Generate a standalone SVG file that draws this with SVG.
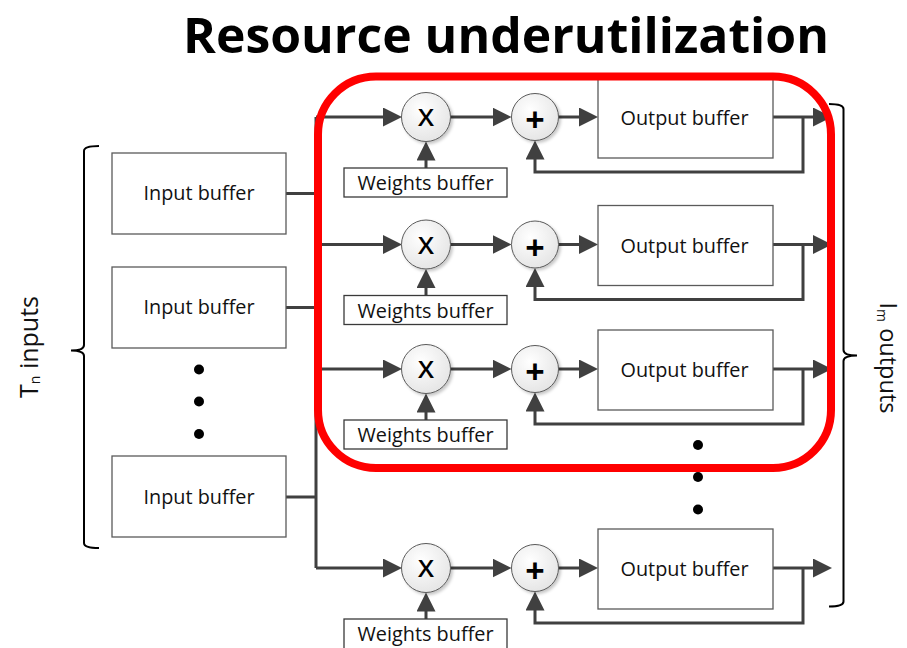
<svg xmlns="http://www.w3.org/2000/svg" width="907" height="648" viewBox="0 0 907 648">
  <style>
    .box { fill: #ffffff; stroke: #5a5a5a; stroke-width: 1.3; }
    .wbox { fill: #ffffff; stroke: #3a3a3a; stroke-width: 1.3; }
    .op { fill: url(#opFill); stroke: #5a5a5a; stroke-width: 1; filter: url(#soft); }
    .wire { fill: none; stroke: #404040; stroke-width: 3; marker-end: url(#arrow); }
    .plain { fill: none; stroke: #404040; stroke-width: 3; }
    .brace { fill: none; stroke: #000000; stroke-width: 2; }
    .lbl { font-family: "Open Sans", "Noto Sans", "Liberation Sans", sans-serif; fill: #111111; text-anchor: middle; }
    .mul { font-family: "Open Sans", "Noto Sans", "Liberation Sans", sans-serif; font-weight: 600; font-size: 22.5px; fill: #000000; text-anchor: middle; }
    .add { font-family: "Open Sans", "Noto Sans", "Liberation Sans", sans-serif; font-weight: bold; font-size: 34px; fill: #000000; text-anchor: middle; }
    .dot { fill: #000000; }
  </style>
  <defs>
    <marker id="arrow" markerUnits="userSpaceOnUse" markerWidth="20" markerHeight="20" refX="11" refY="9.5" orient="auto">
      <path d="M0,0 L19,9.5 L0,19 Z" fill="#404040"/>
    </marker>
    <radialGradient id="opFill" cx="40%" cy="35%" r="70%">
      <stop offset="0" stop-color="#ffffff"/>
      <stop offset="1" stop-color="#e4e4e4"/>
    </radialGradient>
    <filter id="soft" x="-30%" y="-30%" width="170%" height="170%">
      <feDropShadow dx="2" dy="2" stdDeviation="1.5" flood-color="#000000" flood-opacity="0.22"/>
    </filter>
  </defs>

  <rect width="907" height="648" fill="#ffffff"/>

  <!-- title -->
  <text x="183" y="52.5" font-family="'Open Sans', 'Noto Sans', 'Liberation Sans', sans-serif" font-weight="bold" font-size="49" fill="#000000" textLength="646" lengthAdjust="spacingAndGlyphs">Resource underutilization</text>

  <!-- connectors -->
  <g id="connectors">
    <!-- input buffers to shared trunk -->
    <path class="plain" d="M286,193.5 H316 M286,307.5 H316 M286,497 H316"/>
    <path class="plain" d="M316,117 V568"/>

    <!-- row 1 -->
    <path class="wire" d="M316,117 H394"/>
    <path class="wire" d="M450.5,117 H503.5"/>
    <path class="wire" d="M558.5,117 H590"/>
    <path class="wire" d="M773,117 H824"/>
    <path class="wire" d="M803,117 V172 H535 V148.5"/>
    <path class="wire" d="M426,168 V149.5"/>

    <!-- row 2 -->
    <path class="wire" d="M316,244.5 H394"/>
    <path class="wire" d="M450.5,244.5 H503.5"/>
    <path class="wire" d="M558.5,244.5 H590"/>
    <path class="wire" d="M773,244.5 H824"/>
    <path class="wire" d="M803,244.5 V299.5 H535 V276"/>
    <path class="wire" d="M426,295.5 V277"/>

    <!-- row 3 -->
    <path class="wire" d="M316,369 H394"/>
    <path class="wire" d="M450.5,369 H503.5"/>
    <path class="wire" d="M558.5,369 H590"/>
    <path class="wire" d="M773,369 H824"/>
    <path class="wire" d="M803,369 V424 H535 V400.5"/>
    <path class="wire" d="M426,420 V401.5"/>

    <!-- row 4 -->
    <path class="wire" d="M316,568 H394"/>
    <path class="wire" d="M450.5,568 H503.5"/>
    <path class="wire" d="M558.5,568 H590"/>
    <path class="wire" d="M773,568 H824"/>
    <path class="wire" d="M803,568 V623 H535 V599.5"/>
    <path class="wire" d="M426,619 V600.5"/>
  </g>

  <!-- input side -->
  <g id="input-1">
    <rect class="box" x="112" y="153" width="174" height="81"/>
    <text class="lbl" x="199" y="200" font-size="19.5" textLength="111" lengthAdjust="spacingAndGlyphs">Input buffer</text>
  </g>
  <g id="input-2">
    <rect class="box" x="112" y="267" width="174" height="81"/>
    <text class="lbl" x="199" y="314" font-size="19.5" textLength="111" lengthAdjust="spacingAndGlyphs">Input buffer</text>
  </g>
  <g id="input-dots">
    <circle class="dot" cx="199" cy="369.5" r="5"/>
    <circle class="dot" cx="199" cy="401.5" r="5"/>
    <circle class="dot" cx="199" cy="434" r="5"/>
  </g>
  <g id="input-n">
    <rect class="box" x="112" y="456" width="174" height="81"/>
    <text class="lbl" x="199" y="503.5" font-size="19.5" textLength="111" lengthAdjust="spacingAndGlyphs">Input buffer</text>
  </g>

  <g id="inputs-brace">
    <path class="brace" d="M99,146 Q84,146 84,151 V345 Q84,350.5 71,350.5 Q84,350.5 84,356 V543 Q84,548 99,548"/>
    <text class="lbl" transform="translate(37.5,347) rotate(-90)" font-size="25">T<tspan font-size="14" dy="2">n</tspan><tspan dy="-2"> inputs</tspan></text>
  </g>

  <!-- row 1 -->
  <g id="mul-1"><circle class="op" cx="426" cy="117" r="24.5"/><text class="mul" x="426" y="126" textLength="16" lengthAdjust="spacingAndGlyphs">X</text></g>
  <g id="add-1"><circle class="op" cx="535" cy="117" r="23.5"/><text class="add" x="535" y="132">+</text></g>
  <g id="weights-1"><rect class="wbox" x="344" y="168" width="163" height="29"/><text class="lbl" x="425.5" y="190" font-size="19.5" textLength="136" lengthAdjust="spacingAndGlyphs">Weights buffer</text></g>
  <g id="output-1"><rect class="box" x="598" y="78" width="175" height="80"/><text class="lbl" x="684.5" y="125" font-size="19.5" textLength="128" lengthAdjust="spacingAndGlyphs">Output buffer</text></g>

  <!-- row 2 -->
  <g id="mul-2"><circle class="op" cx="426" cy="244.5" r="24.5"/><text class="mul" x="426" y="253.5" textLength="16" lengthAdjust="spacingAndGlyphs">X</text></g>
  <g id="add-2"><circle class="op" cx="535" cy="244.5" r="23.5"/><text class="add" x="535" y="259.5">+</text></g>
  <g id="weights-2"><rect class="wbox" x="344" y="295.5" width="163" height="29"/><text class="lbl" x="425.5" y="317.5" font-size="19.5" textLength="136" lengthAdjust="spacingAndGlyphs">Weights buffer</text></g>
  <g id="output-2"><rect class="box" x="598" y="205.5" width="175" height="80"/><text class="lbl" x="684.5" y="252.5" font-size="19.5" textLength="128" lengthAdjust="spacingAndGlyphs">Output buffer</text></g>

  <!-- row 3 -->
  <g id="mul-3"><circle class="op" cx="426" cy="369" r="24.5"/><text class="mul" x="426" y="378" textLength="16" lengthAdjust="spacingAndGlyphs">X</text></g>
  <g id="add-3"><circle class="op" cx="535" cy="369" r="23.5"/><text class="add" x="535" y="384">+</text></g>
  <g id="weights-3"><rect class="wbox" x="344" y="420" width="163" height="29"/><text class="lbl" x="425.5" y="442" font-size="19.5" textLength="136" lengthAdjust="spacingAndGlyphs">Weights buffer</text></g>
  <g id="output-3"><rect class="box" x="598" y="330" width="175" height="80"/><text class="lbl" x="684.5" y="377" font-size="19.5" textLength="128" lengthAdjust="spacingAndGlyphs">Output buffer</text></g>

  <g id="output-dots">
    <circle class="dot" cx="698" cy="445" r="5"/>
    <circle class="dot" cx="698" cy="477" r="5"/>
    <circle class="dot" cx="698" cy="509.5" r="5"/>
  </g>

  <!-- row m -->
  <g id="mul-m"><circle class="op" cx="426" cy="568" r="24.5"/><text class="mul" x="426" y="577" textLength="16" lengthAdjust="spacingAndGlyphs">X</text></g>
  <g id="add-m"><circle class="op" cx="535" cy="568" r="23.5"/><text class="add" x="535" y="583">+</text></g>
  <g id="weights-m"><rect class="wbox" x="344" y="619" width="163" height="32"/><text class="lbl" x="425.5" y="641" font-size="19.5" textLength="136" lengthAdjust="spacingAndGlyphs">Weights buffer</text></g>
  <g id="output-m"><rect class="box" x="598" y="529" width="175" height="80"/><text class="lbl" x="684.5" y="576" font-size="19.5" textLength="128" lengthAdjust="spacingAndGlyphs">Output buffer</text></g>

  <g id="outputs-brace">
    <path class="brace" d="M829,104 Q843.5,104 843.5,109 V350 Q843.5,355.5 857,355.5 Q843.5,355.5 843.5,361 V601.5 Q843.5,606.5 829,606.5"/>
    <text class="lbl" transform="translate(880,358) rotate(90)" font-size="23.5">I<tspan font-size="14" dy="3">m</tspan><tspan dy="-3"> outputs</tspan></text>
  </g>

  <!-- highlighted region -->
  <g id="highlight">
    <rect x="318" y="76.5" width="513" height="391.5" rx="58" ry="58" fill="none" stroke="#ff0000" stroke-width="8"/>
  </g>
</svg>
